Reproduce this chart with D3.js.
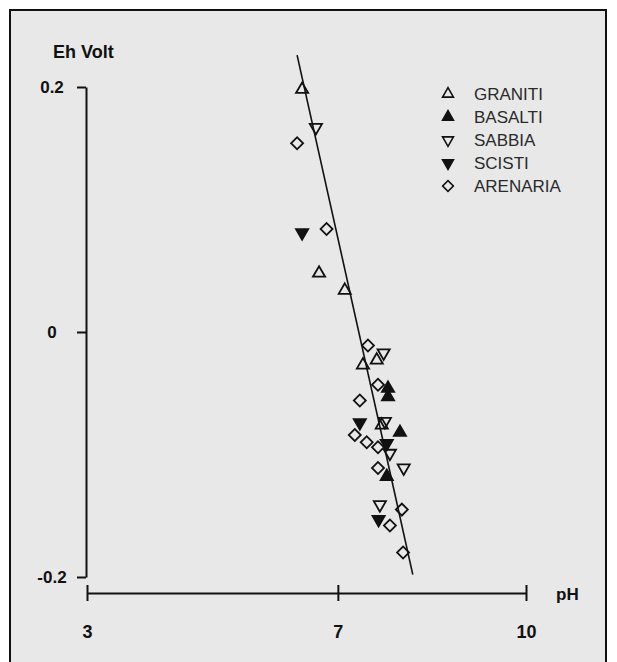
<!DOCTYPE html>
<html>
<head>
<meta charset="utf-8">
<script src="https://cdn.jsdelivr.net/npm/d3@7"></script>
<style>
  html, body { margin: 0; padding: 0; background: #ffffff; }
  svg { display: block; }
</style>
</head>
<body>
<svg id="chart" width="617" height="662"></svg>
<script>
// ---- data (pH, Eh in volt) ----
const seriesNames = ["GRANITI", "BASALTI", "SABBIA", "SCISTI", "ARENARIA"];
const graniti  = [[6.43, 0.198], [6.70, 0.048], [7.11, 0.034], [7.40, -0.027], [7.62, -0.023], [7.70, -0.076]];
const basalti  = [[7.80, -0.046], [7.80, -0.053], [7.99, -0.082], [7.78, -0.118]];
const sabbia   = [[6.65, 0.167], [7.73, -0.017], [7.75, -0.073], [7.83, -0.099], [8.05, -0.111], [7.67, -0.141]];
const scisti   = [[6.43, 0.081], [7.35, -0.074], [7.78, -0.091], [7.65, -0.153]];
const arenaria = [[6.35, 0.154], [6.82, 0.084], [7.48, -0.011], [7.64, -0.043], [7.35, -0.056], [7.27, -0.084],
                  [7.46, -0.090], [7.64, -0.094], [7.64, -0.111], [8.02, -0.145], [7.83, -0.158], [8.04, -0.180]];
const trendLine = [[6.35, 0.226], [8.195, -0.198]];
const xTicks = [3, 7, 10];
const xTickLabels = ["3", "7", "10"];
const yTicks = [-0.2, 0, 0.2];
const yTickLabels = ["-0.2", "0", "0.2"];

// ---- drawing ----
const svg = d3.select("#chart");
const font = "Arial, 'Liberation Sans', Helvetica, sans-serif";

// frame
svg.append("rect").attr("x", 10).attr("y", 10).attr("width", 596).attr("height", 670)
  .attr("fill", "#e8e8e8").attr("stroke", "#111").attr("stroke-width", 2);

const x = d3.scaleLinear().domain([3, 10]).range([87, 526]);
const y = d3.scaleLinear().domain([-0.2, 0.2]).range([577, 87]);

// y axis
const yAxis = svg.append("g").attr("transform", `translate(${x(3) - 1},0)`)
  .call(d3.axisLeft(y).tickValues(yTicks).tickSize(9).tickSizeOuter(0)
    .tickFormat(d => yTickLabels[yTicks.indexOf(d)]));
yAxis.select(".domain").attr("stroke", "#111").attr("stroke-width", 2);
yAxis.selectAll(".tick line").attr("stroke", "#111").attr("stroke-width", 2);
yAxis.selectAll(".tick text").attr("x", -34).attr("text-anchor", "middle")
  .attr("font-family", font).attr("font-size", 17)
  .attr("font-weight", "bold").attr("fill", "#111");

// x axis
const xAxis = svg.append("g").attr("transform", `translate(0,${593})`)
  .call(d3.axisBottom(x).tickValues(xTicks).tickSize(8).tickSizeOuter(0).tickPadding(24)
    .tickFormat(d => xTickLabels[xTicks.indexOf(d)]));
xAxis.select(".domain").attr("stroke", "#111").attr("stroke-width", 2);
xAxis.selectAll(".tick line").attr("y1", -8).attr("y2", 8).attr("stroke", "#111").attr("stroke-width", 2);
xAxis.selectAll(".tick text").attr("font-family", font).attr("font-size", 18)
  .attr("font-weight", "bold").attr("fill", "#111");

// axis titles
svg.append("text").attr("x", 53).attr("y", 58).text("Eh Volt")
  .attr("font-family", font).attr("font-size", 18).attr("font-weight", "bold").attr("fill", "#111");
svg.append("text").attr("x", 556).attr("y", 600).text("pH")
  .attr("font-family", font).attr("font-size", 17).attr("font-weight", "bold").attr("fill", "#111");

// trend line
svg.append("path").datum(trendLine)
  .attr("d", d3.line().x(d => x(d[0])).y(d => y(d[1])))
  .attr("fill", "none").attr("stroke", "#111").attr("stroke-width", 1.6);

// symbols
const styles = {
  GRANITI:  { type: d3.symbolTriangle, size: 64, rot: 0,   fill: "none" },
  BASALTI:  { type: d3.symbolTriangle, size: 64, rot: 0,   fill: "#111" },
  SABBIA:   { type: d3.symbolTriangle, size: 64, rot: 180, fill: "none" },
  SCISTI:   { type: d3.symbolTriangle, size: 64, rot: 180, fill: "#111" },
  ARENARIA: { type: d3.symbolSquare,   size: 72, rot: 45,  fill: "none" }
};
const allSeries = [graniti, basalti, sabbia, scisti, arenaria];

seriesNames.forEach((name, i) => {
  const st = styles[name];
  svg.append("g").selectAll("path").data(allSeries[i]).join("path")
    .attr("d", d3.symbol().type(st.type).size(st.size))
    .attr("transform", d => `translate(${x(d[0])},${y(d[1])}) rotate(${st.rot})`)
    .attr("fill", st.fill).attr("stroke", "#111").attr("stroke-width", 1.8);
});

// legend
const legend = svg.append("g").attr("transform", "translate(448,94)");
seriesNames.forEach((name, i) => {
  const st = styles[name];
  const g = legend.append("g").attr("transform", `translate(0,${i * 23})`);
  g.append("path").attr("d", d3.symbol().type(st.type).size(st.size * 0.8))
    .attr("transform", `rotate(${st.rot})`)
    .attr("fill", st.fill).attr("stroke", "#111").attr("stroke-width", 1.6);
  g.append("text").attr("x", 26).attr("y", 6).text(name)
    .attr("font-family", font).attr("font-size", 17).attr("fill", "#2a2a2a");
});
</script>
</body>
</html>
